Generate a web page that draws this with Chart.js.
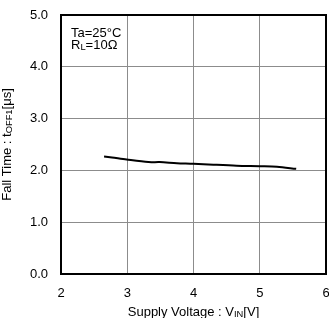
<!DOCTYPE html>
<html><head><meta charset="utf-8">
<script src="https://cdn.jsdelivr.net/npm/chart.js@4"></script>
<style>html,body{margin:0;padding:0;background:#fff;}canvas{display:block;}</style>
</head><body>
<canvas id="c" width="329" height="318"></canvas>
<script>
const supplyVoltage = [2.65, 2.77, 2.99, 3.32, 3.49, 3.75, 4.00, 4.30, 4.65, 5.00, 5.26, 5.55];
const fallTime      = [2.27, 2.25, 2.21, 2.16, 2.16, 2.14, 2.13, 2.11, 2.09, 2.08, 2.07, 2.03];
const xTickLabels = ['2', '3', '4', '5', '6'];
const yTickLabels = ['0.0', '1.0', '2.0', '3.0', '4.0', '5.0'];

const FONT = '"Liberation Sans", Arial, sans-serif';

function drawSubText(ctx, parts, x, y, size, align) {
  let total = 0;
  const widths = parts.map(p => {
    ctx.font = (p[1] ? size * 0.72 : size) + 'px ' + FONT;
    const w = ctx.measureText(p[0]).width;
    total += w;
    return w;
  });
  let cx = align === 'center' ? x - total / 2 : x;
  parts.forEach((p, i) => {
    ctx.font = (p[1] ? size * 0.72 : size) + 'px ' + FONT;
    ctx.textAlign = 'left';
    ctx.textBaseline = 'middle';
    ctx.fillText(p[0], cx, p[1] ? y + size * 0.22 : y);
    cx += widths[i];
  });
}

const decor = {
  id: 'decor',
  afterDraw(chart) {
    const ctx = chart.ctx, a = chart.chartArea;
    ctx.save();
    ctx.strokeStyle = '#000';
    ctx.lineWidth = 2;
    ctx.strokeRect(a.left, a.top, a.right - a.left, a.bottom - a.top);
    ctx.fillStyle = '#000';
    drawSubText(ctx, [['Ta=25°C', false]], a.left + 10, a.top + 18, 13, 'left');
    drawSubText(ctx, [['R', false], ['L', true], ['=10Ω', false]], a.left + 10, a.top + 30, 13, 'left');
    drawSubText(ctx, [['Supply Voltage : V', false], ['IN', true], ['[V]', false]], (a.left + a.right) / 2, 312, 13, 'center');
    ctx.translate(7, (a.top + a.bottom) / 2);
    ctx.rotate(-Math.PI / 2);
    drawSubText(ctx, [['Fall Time : t', false], ['OFF1', true], ['[μs]', false]], 0, 0, 13, 'center');
    ctx.restore();
  }
};

new Chart(document.getElementById('c'), {
  type: 'line',
  data: {
    datasets: [{
      data: supplyVoltage.map((v, i) => ({ x: v, y: fallTime[i] })),
      borderColor: '#000',
      borderWidth: 2,
      pointRadius: 0,
      tension: 0.3,
      fill: false
    }]
  },
  options: {
    responsive: false,
    animation: false,
    devicePixelRatio: 1,
    layout: { padding: { left: 0, right: 3, top: 15, bottom: 0 } },
    plugins: { legend: { display: false }, tooltip: { enabled: false } },
    scales: {
      x: {
        type: 'linear', min: 2, max: 6,
        afterFit(s) { s.height = 44; s.paddingLeft = 0; s.paddingRight = 0; },
        border: { display: false },
        grid: { color: '#8c8c8c', lineWidth: 1, drawTicks: false },
        ticks: {
          stepSize: 1, padding: 12, color: '#000',
          font: { family: FONT, size: 13 },
          callback: (v) => xTickLabels[Math.round(v - 2)]
        }
      },
      y: {
        min: 0, max: 5,
        afterFit(s) { s.width = 61; s.paddingTop = 0; s.paddingBottom = 0; },
        border: { display: false },
        grid: { color: '#8c8c8c', lineWidth: 1, drawTicks: false },
        ticks: {
          stepSize: 1, padding: 13, color: '#000',
          font: { family: FONT, size: 13 },
          callback: (v) => yTickLabels[Math.round(v)]
        }
      }
    }
  },
  plugins: [decor]
});
</script>
</body></html>
